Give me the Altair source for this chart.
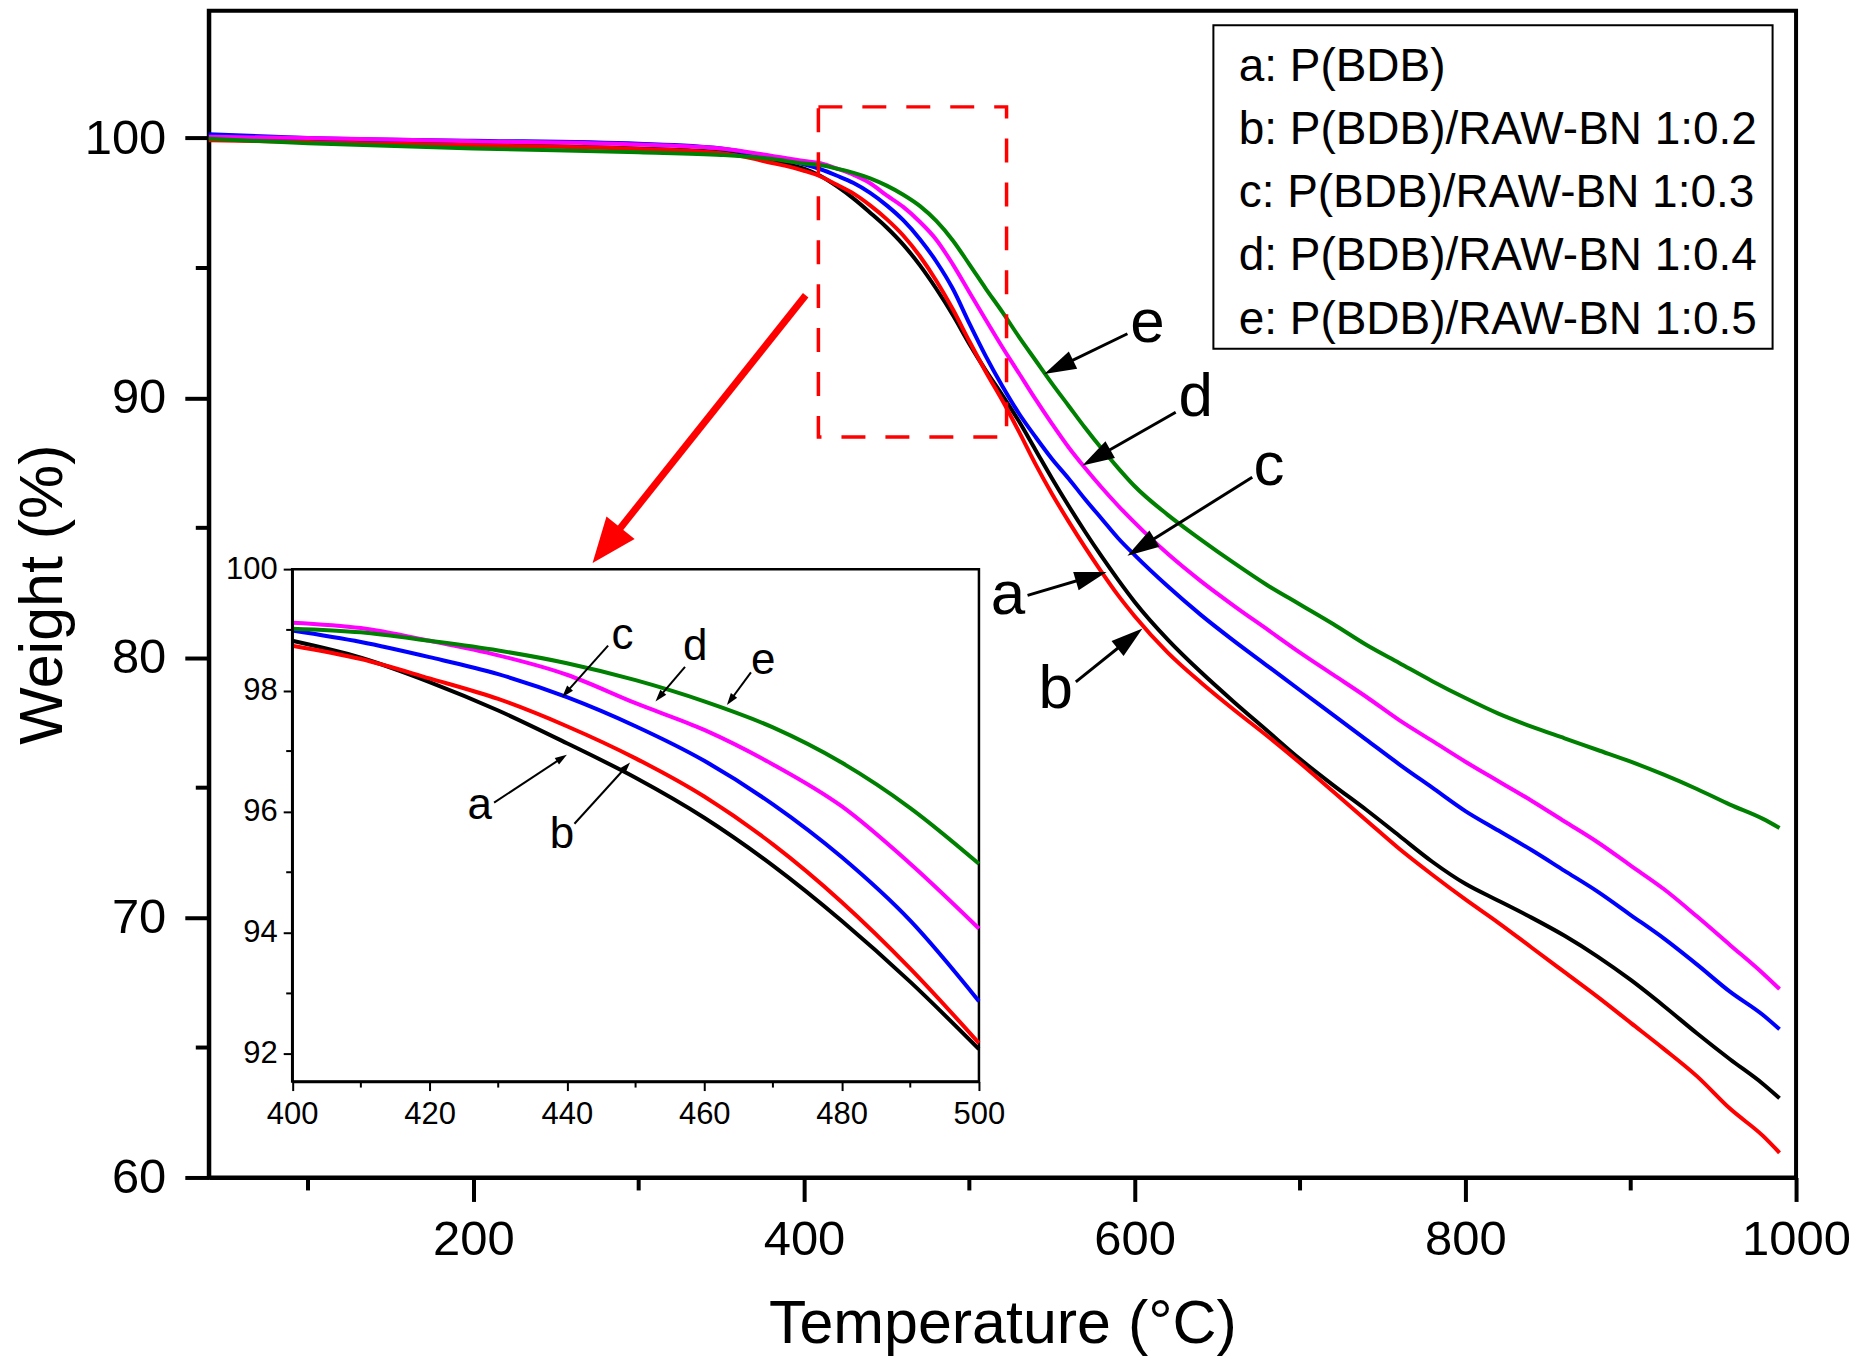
import math
import altair as alt
import pandas as pd

FONT = "Liberation Sans"
W, H = 1589, 1168

# ---------------- data ----------------
temps = [40, 100, 200, 300, 350, 380, 400, 410, 420, 430, 440, 450, 460, 470, 480, 490,
         500, 510, 520, 530, 540, 550, 560, 570, 580, 590, 600, 620, 640, 660, 680, 700,
         720, 740, 760, 780, 800, 820, 840, 860, 880, 900, 920, 940, 960, 980, 990]

w_a = [100.1, 99.95, 99.75, 99.6, 99.45, 99.1, 98.82, 98.54, 98.14, 97.67, 97.13, 96.56,
       95.90, 95.11, 94.20, 93.19, 92.08, 91.05, 90.1, 89.1, 88.0, 86.9, 85.85, 84.85,
       83.9, 83.0, 82.15, 80.7, 79.45, 78.3, 77.2, 76.1, 75.1, 74.15, 73.15, 72.15,
       71.3, 70.65, 70.0, 69.3, 68.5, 67.6, 66.6, 65.55, 64.55, 63.6, 63.05]
w_b = [99.92, 99.85, 99.72, 99.58, 99.42, 99.05, 98.74, 98.52, 98.20, 97.86, 97.41, 96.88,
       96.25, 95.46, 94.51, 93.41, 92.18, 91.0, 89.9, 88.7, 87.45, 86.3, 85.25, 84.25,
       83.3, 82.4, 81.6, 80.2, 79.05, 78.0, 77.0, 75.95, 74.85, 73.75, 72.65, 71.65,
       70.7, 69.8, 68.85, 67.9, 66.95, 65.95, 64.95, 63.9, 62.65, 61.6, 60.95]
w_c = [100.15, 100.0, 99.9, 99.78, 99.6, 99.25, 98.99, 98.80, 98.55, 98.27, 97.89, 97.41,
       96.84, 96.12, 95.25, 94.2, 92.87, 91.6, 90.45, 89.4, 88.5, 87.65, 86.9, 86.1,
       85.35, 84.6, 83.95, 82.75, 81.65, 80.65, 79.7, 78.75, 77.8, 76.85, 75.9, 75.0,
       74.1, 73.35, 72.6, 71.8, 71.0, 70.1, 69.2, 68.2, 67.15, 66.25, 65.7]
w_d = [100.05, 100.0, 99.88, 99.75, 99.6, 99.32, 99.12, 99.03, 98.82, 98.58, 98.26, 97.79,
       97.35, 96.78, 96.09, 95.14, 94.07, 93.0, 91.95, 90.95, 89.95, 89.0, 88.1, 87.3,
       86.55, 85.85, 85.2, 84.0, 82.95, 82.0, 81.1, 80.2, 79.35, 78.5, 77.6, 76.8,
       76.0, 75.25, 74.5, 73.7, 72.9, 72.0, 71.1, 70.05, 68.95, 67.85, 67.25]
w_e = [99.97, 99.8, 99.6, 99.45, 99.35, 99.2, 99.02, 98.96, 98.82, 98.66, 98.45, 98.17,
       97.82, 97.39, 96.81, 96.06, 95.14, 94.2, 93.3, 92.35, 91.45, 90.55, 89.7, 88.85,
       88.05, 87.3, 86.6, 85.5, 84.55, 83.65, 82.8, 82.05, 81.3, 80.5, 79.8, 79.1,
       78.45, 77.85, 77.35, 76.9, 76.45, 76.0, 75.5, 74.95, 74.35, 73.8, 73.45]

series_names = ["a: P(BDB)", "b: P(BDB)/RAW-BN 1:0.2", "c: P(BDB)/RAW-BN 1:0.3",
                "d: P(BDB)/RAW-BN 1:0.4", "e: P(BDB)/RAW-BN 1:0.5"]
series_colors = ["#000000", "#ff0000", "#0000ff", "#ff00ff", "#008000"]

x_major = [200, 400, 600, 800, 1000]
x_minor = [100, 300, 500, 700, 900]
y_major = [60, 70, 80, 90, 100]
y_minor = [65, 75, 85, 95]

in_x_major = [400, 420, 440, 460, 480, 500]
in_x_minor = [410, 430, 450, 470, 490]
in_y_major = [92, 94, 96, 98, 100]
in_y_minor = [93, 95, 97, 99]

# zoom box and red arrow (main coordinates)
box_t = [408.7, 522.5]
box_w = [88.5, 101.2]
red_tail = [401.0, 93.95]
red_tip = [272.1, 83.65]

# main curve labels and arrows
lab_main = ["e", "d", "c", "a", "b"]
lab_main_t = [607.7, 636.9, 681.2, 523.3, 552.3]
lab_main_w = [92.9, 90.05, 87.39, 82.4, 78.78]
arr_main_t0 = [595.6, 624.8, 671.1, 535.2, 564.4]
arr_main_w0 = [92.47, 89.45, 86.95, 82.40, 79.07]
arr_main_t1 = [545.3, 568.4, 595.6, 583.0, 604.7]
arr_main_w1 = [90.92, 87.40, 83.93, 83.30, 81.13]

# inset labels and arrows
lab_in = ["a", "b", "c", "d", "e"]
lab_in_t = [427.3, 439.3, 448.1, 458.7, 468.6]
lab_in_w = [96.09, 95.62, 98.90, 98.71, 98.49]
arr_in_t0 = [429.4, 441.1, 446.0, 457.2, 466.8]
arr_in_w0 = [96.15, 95.80, 98.74, 98.39, 98.30]
arr_in_t1 = [440.0, 449.2, 439.3, 452.9, 463.3]
arr_in_w1 = [96.94, 96.81, 97.89, 97.82, 97.76]

# ---------------- layout ----------------
X_DOM = [40, 1000]
Y_DOM = [60, 104.9]
IN_X_RANGE = [83.5, 771]
IN_Y_RANGE = [1072, 559.2]
IN_X_DOM = [400, 500]
IN_Y_DOM = [91.545, 100]
LEG_BOX = (1005.7, 1565.5, 14.5, 338.5)   # x0, x1, y0, y1 in view pixels
LEG_TEXT_X = 1031
LEG_ROW0 = 56
LEG_ROW_STEP = 63.3

pxT_main = W / (X_DOM[1] - X_DOM[0])
pxW_main = H / (Y_DOM[1] - Y_DOM[0])
pxT_in = (IN_X_RANGE[1] - IN_X_RANGE[0]) / (IN_X_DOM[1] - IN_X_DOM[0])
pxW_in = (IN_Y_RANGE[0] - IN_Y_RANGE[1]) / (IN_Y_DOM[1] - IN_Y_DOM[0])

rows = []
for name, vals in zip(series_names, [w_a, w_b, w_c, w_d, w_e]):
    for t, v in zip(temps, vals):
        rows.append({"series": name, "T": t, "W": v})
df = pd.DataFrame(rows)


def arrows(t0, w0, t1, w1, pxT, pxW, shorten):
    out = []
    for a, b, c, d in zip(t0, w0, t1, w1):
        dx = (c - a) * pxT
        dy = -(d - b) * pxW
        L = math.hypot(dx, dy)
        ang = math.degrees(math.atan2(dx, -dy)) % 360
        f = max(L - shorten, 0) / L
        out.append({"T": a, "W": b, "t1": c, "w1": d,
                    "te": a + (c - a) * f, "we": b + (d - b) * f, "ang": ang})
    return pd.DataFrame(out)


main_arr = arrows(arr_main_t0, arr_main_w0, arr_main_t1, arr_main_w1, pxT_main, pxW_main, 9)
red_arr = arrows([red_tail[0]], [red_tail[1]], [red_tip[0]], [red_tip[1]], pxT_main, pxW_main, 18)
in_arr = arrows(arr_in_t0, arr_in_w0, arr_in_t1, arr_in_w1, pxT_in, pxW_in, 5)

lab_main_df = pd.DataFrame({"lab": lab_main, "T": lab_main_t, "W": lab_main_w})
lab_in_df = pd.DataFrame({"lab": lab_in, "T": lab_in_t, "W": lab_in_w})
box_df = pd.DataFrame({"T": [box_t[0]], "t2": [box_t[1]], "W": [box_w[0]], "w2": [box_w[1]]})
inbox_df = pd.DataFrame({"T": [IN_X_DOM[0]], "t2": [IN_X_DOM[1]], "W": [IN_Y_DOM[0]], "w2": [IN_Y_DOM[1]]})

HEAD_MAIN = "M0,0L-0.6,2L0.6,2Z"
HEAD_RED = "M0,0L-0.8,2L0.8,2Z"
HEAD_IN = "M0,0L-0.65,2L0.65,2Z"

# ---------------- scales / axes ----------------
xs_main = alt.Scale(domain=X_DOM, nice=False, zero=False)
ys_main = alt.Scale(domain=Y_DOM, nice=False, zero=False)
xs_in = alt.Scale(domain=IN_X_DOM, range=IN_X_RANGE, nice=False, zero=False)
ys_in = alt.Scale(domain=IN_Y_DOM, range=IN_Y_RANGE, nice=False, zero=False)

common_axis = dict(grid=False, domainColor="black", tickColor="black", labelColor="black",
                   labelFont=FONT, titleFont=FONT, titleColor="black",
                   titleFontWeight="normal", labelOverlap=False, format="d")

xax_main = alt.Axis(values=x_major, title="Temperature (°C)", orient="bottom",
                    tickSize=24, tickWidth=4, domainWidth=4, labelFontSize=49,
                    labelPadding=14, labelFlush=False, titleFontSize=61, titlePadding=30,
                    **common_axis)
yax_main = alt.Axis(values=y_major, title="Weight (%)", orient="left",
                    tickSize=24, tickWidth=4, domainWidth=4, labelFontSize=49,
                    labelPadding=19, titleFontSize=61, titlePadding=10, **common_axis)
xax_in = alt.Axis(values=in_x_major, title=None, orient="bottom", offset=IN_Y_RANGE[0] - H,
                  tickSize=9, tickWidth=2, domainWidth=2.5, labelFontSize=31,
                  labelPadding=9, labelFlush=False, zindex=1, **common_axis)
yax_in = alt.Axis(values=in_y_major, title=None, orient="left", offset=-IN_X_RANGE[0],
                  tickSize=9, tickWidth=2, domainWidth=2.5, labelFontSize=31,
                  labelPadding=6, zindex=1, **common_axis)

color_enc = alt.Color("series:N", scale=alt.Scale(domain=series_names, range=series_colors),
                      legend=None)


def X(field, inset=False):
    return alt.X(field, type="quantitative", scale=xs_in if inset else xs_main,
                 axis=xax_in if inset else xax_main)


def Y(field, inset=False):
    return alt.Y(field, type="quantitative", scale=ys_in if inset else ys_main,
                 axis=yax_in if inset else yax_main)


# ---------------- main group ----------------
main_lines = alt.Chart(df).mark_line(strokeWidth=4, interpolate="monotone").encode(
    x=X("T"), y=Y("W"), color=color_enc)

main_xminor = alt.Chart(pd.DataFrame({"T": x_minor})).mark_rule(
    strokeWidth=4, color="black").encode(x=X("T"), y=alt.value(H), y2=alt.value(H + 13))
main_yminor = alt.Chart(pd.DataFrame({"W": y_minor})).mark_rule(
    strokeWidth=4, color="black").encode(y=Y("W"), x=alt.value(0), x2=alt.value(-13))

zoom_box = alt.Chart(box_df).mark_rect(fillOpacity=0, stroke="#ff0000", strokeWidth=3.5,
                                       strokeDash=[24, 20]).encode(
    x=X("T"), x2="t2", y=Y("W"), y2="w2")

red_line = alt.Chart(red_arr).mark_rule(strokeWidth=7, color="#ff0000").encode(
    x=X("T"), y=Y("W"), x2="te", y2="we")
red_head = alt.Chart(red_arr).mark_point(shape=HEAD_RED, filled=True, size=2025,
                                         color="#ff0000", opacity=1, strokeWidth=0).encode(
    x=X("t1"), y=Y("w1"), angle=alt.Angle("ang:Q", scale=None))

m_arr_line = alt.Chart(main_arr).mark_rule(strokeWidth=3, color="black").encode(
    x=X("T"), y=Y("W"), x2="te", y2="we")
m_arr_head = alt.Chart(main_arr).mark_point(shape=HEAD_MAIN, filled=True, size=1024,
                                            color="black", opacity=1, strokeWidth=0).encode(
    x=X("t1"), y=Y("w1"), angle=alt.Angle("ang:Q", scale=None))
m_labels = alt.Chart(lab_main_df).mark_text(font=FONT, fontSize=62, color="black",
                                            align="center", baseline="middle").encode(
    x=X("T"), y=Y("W"), text="lab:N")

main_group = alt.layer(main_lines, main_xminor, main_yminor, zoom_box, red_line, red_head,
                       m_arr_line, m_arr_head, m_labels)

# ---------------- inset group ----------------
in_box = alt.Chart(inbox_df).mark_rect(fillOpacity=0, stroke="black", strokeWidth=2.5).encode(
    x=X("T", True), x2="t2", y=Y("W", True), y2="w2")
in_lines = alt.Chart(df).transform_filter(
    (alt.datum.T >= IN_X_DOM[0]) & (alt.datum.T <= IN_X_DOM[1])
).mark_line(strokeWidth=4, interpolate="monotone").encode(
    x=X("T", True), y=Y("W", True), color=color_enc)
in_xminor = alt.Chart(pd.DataFrame({"T": in_x_minor})).mark_rule(
    strokeWidth=2, color="black").encode(
    x=X("T", True), y=alt.value(IN_Y_RANGE[0]), y2=alt.value(IN_Y_RANGE[0] + 6))
in_yminor = alt.Chart(pd.DataFrame({"W": in_y_minor})).mark_rule(
    strokeWidth=2, color="black").encode(
    y=Y("W", True), x=alt.value(IN_X_RANGE[0]), x2=alt.value(IN_X_RANGE[0] - 6))
i_arr_line = alt.Chart(in_arr).mark_rule(strokeWidth=2, color="black").encode(
    x=X("T", True), y=Y("W", True), x2="te", y2="we")
i_arr_head = alt.Chart(in_arr).mark_point(shape=HEAD_IN, filled=True, size=144,
                                          color="black", opacity=1, strokeWidth=0).encode(
    x=X("t1", True), y=Y("w1", True), angle=alt.Angle("ang:Q", scale=None))
i_labels = alt.Chart(lab_in_df).mark_text(font=FONT, fontSize=44, color="black",
                                          align="center", baseline="middle").encode(
    x=X("T", True), y=Y("W", True), text="lab:N")

inset_group = alt.layer(in_box, in_lines, in_xminor, in_yminor, i_arr_line, i_arr_head, i_labels)

# ---------------- legend box (text only, as in the reference) ----------------
leg_layers = [
    alt.Chart(pd.DataFrame({"k": [0]})).mark_rect(fill="white", stroke="black", strokeWidth=2).encode(
        x=alt.value(LEG_BOX[0]), x2=alt.value(LEG_BOX[1]),
        y=alt.value(LEG_BOX[2]), y2=alt.value(LEG_BOX[3]))
]
for i, name in enumerate(series_names):
    leg_layers.append(
        alt.Chart(pd.DataFrame({"lab": [name]})).mark_text(
            font=FONT, fontSize=46, color="black", align="left", baseline="middle").encode(
            x=alt.value(LEG_TEXT_X), y=alt.value(LEG_ROW0 + i * LEG_ROW_STEP), text="lab:N"))
legend_group = alt.layer(*leg_layers)

chart = alt.layer(main_group, inset_group, legend_group).resolve_scale(
    x="independent", y="independent"
).properties(
    width=W, height=H,
    padding={"left": 201, "top": 2, "right": 56, "bottom": 178},
    autosize=alt.AutoSizeParams(type="none"),
    background="white",
).configure_view(stroke="black", strokeWidth=4)

chart.save("out.html", embed_options={"renderer": "svg", "actions": False})
